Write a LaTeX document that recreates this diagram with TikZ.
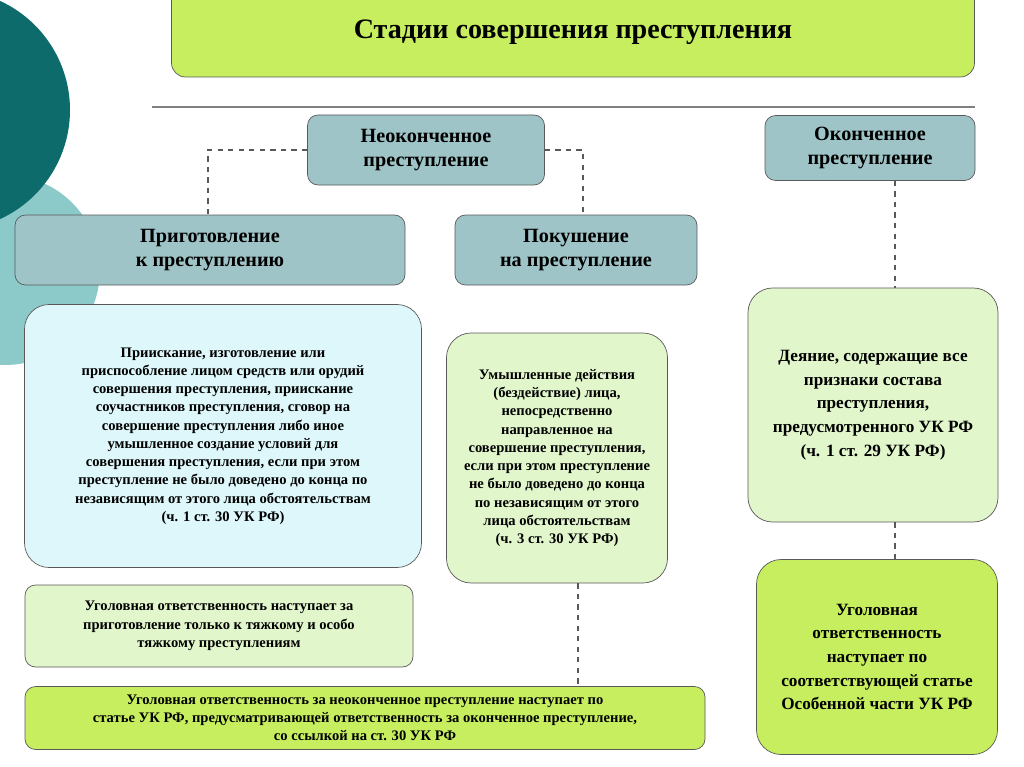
\documentclass[tikz,border=0pt]{standalone}
\usepackage{fontspec}
\setmainfont{Liberation Serif}
\usetikzlibrary{positioning}
\definecolor{tealdark}{HTML}{0E6B6B}
\definecolor{teallight}{HTML}{8CC9C9}
\definecolor{headfill}{HTML}{9EC4C8}
\definecolor{limefill}{HTML}{C6EE5E}
\definecolor{palegreen}{HTML}{E2F6CC}
\definecolor{palecyan}{HTML}{DDF7FA}
\begin{document}
\begin{tikzpicture}[x=0.02cm,y=-0.02cm,
    head/.style={draw=gray!70!black, fill=headfill, rounded corners=6pt, align=center, font=\bfseries\fontsize{11.5}{14}\selectfont},
    textbox/.style={draw=gray!70!black, rounded corners=14pt, align=center, font=\bfseries\fontsize{8.3}{10.4}\selectfont},
    link/.style={gray!70!black, dashed, thick}
]
    \useasboundingbox (0,0) rectangle (1024,767);
    % Kreise links
    \fill[teallight] (5,270) circle (95);
    \fill[tealdark] (-50,110) circle (120);
    % Titel
    \node[draw=gray!70!black, fill=limefill, rounded corners=8pt, minimum width=803*0.02cm, minimum height=90*0.02cm,
        font=\bfseries\fontsize{16}{18}\selectfont] (title) at (573,32) {Стадии совершения преступления};
    \draw[gray, thick] (152,107) -- (975,107);
    % Kopf
    \node[head, minimum width=237*0.02cm, minimum height=70*0.02cm] (neok) at (426,150) {Неоконченное\\преступление};
    \node[head, minimum width=210*0.02cm, minimum height=65*0.02cm] (ok) at (870,148) {Оконченное\\преступление};
    \node[head, minimum width=390*0.02cm, minimum height=70*0.02cm] (prig) at (210,250) {Приготовление\\к преступлению};
    \node[head, minimum width=242*0.02cm, minimum height=70*0.02cm] (pok) at (576,250) {Покушение\\на преступление};
    % Inhalt
    \node[textbox, fill=palecyan, minimum width=397*0.02cm, minimum height=263*0.02cm] (prigtxt) at (223,436)
        {Приискание, изготовление или\\приспособление лицом средств или орудий\\совершения преступления, приискание\\соучастников преступления, сговор на\\совершение преступления либо иное\\умышленное создание условий для\\совершения преступления, если при этом\\преступление не было доведено до конца по\\независящим от этого лица обстоятельствам\\(ч. 1 ст. 30 УК РФ)};
    \node[textbox, fill=palegreen, minimum width=221*0.02cm, minimum height=250*0.02cm] (poktxt) at (557,458)
        {Умышленные действия\\(бездействие) лица,\\непосредственно\\направленное на\\совершение преступления,\\если при этом преступление\\не было доведено до конца\\по независящим от этого\\лица обстоятельствам\\(ч. 3 ст. 30 УК РФ)};
    \node[textbox, fill=palegreen, minimum width=250*0.02cm, minimum height=234*0.02cm,
        font=\bfseries\fontsize{9.8}{13.5}\selectfont] (oktxt) at (873,405)
        {Деяние, содержащие все\\признаки состава\\преступления,\\предусмотренного УК РФ\\(ч. 1 ст. 29 УК РФ)};
    \node[textbox, fill=limefill, minimum width=241*0.02cm, minimum height=195*0.02cm,
        font=\bfseries\fontsize{9.8}{13.5}\selectfont] (okresp) at (877,657)
        {Уголовная\\ответственность\\наступает по\\соответствующей статье\\Особенной части УК РФ};
    \node[textbox, fill=palegreen, rounded corners=6pt, minimum width=388*0.02cm, minimum height=82*0.02cm] (prigresp) at (219,626)
        {Уголовная ответственность наступает за\\приготовление только к тяжкому и особо\\тяжкому преступлениям};
    \node[textbox, fill=limefill, rounded corners=6pt, minimum width=680*0.02cm, minimum height=63*0.02cm] (neokresp) at (365,718)
        {Уголовная ответственность за неоконченное преступление наступает по\\статье УК РФ, предусматривающей ответственность за оконченное преступление,\\со ссылкой на ст. 30 УК РФ};
    % Verbindungen
    \draw[link] (neok.west) -| (prig.north -| 208,0);
    \draw[link] (neok.east) -| (pok.north -| 583,0);
    \draw[link] (ok.south -| 895,0) -- (oktxt.north -| 895,0);
    \draw[link] (oktxt.south -| 895,0) -- (okresp.north -| 895,0);
    \draw[link] (poktxt.south -| 578,0) -- (neokresp.north -| 578,0);
\end{tikzpicture}
\end{document}
